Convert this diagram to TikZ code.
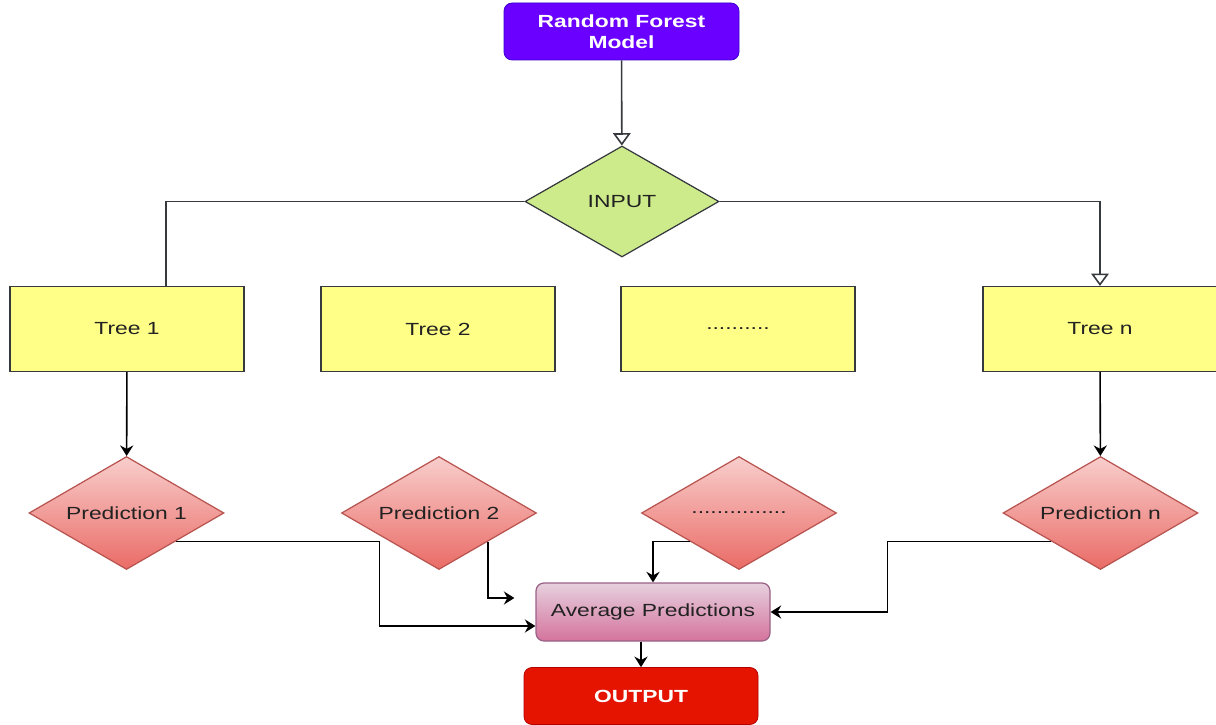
\documentclass[tikz,border=0pt]{standalone}
\usepackage{fontspec}
\setmainfont{Liberation Sans}[FakeStretch=1.3]
\usepackage{tikz}
\usetikzlibrary{arrows.meta,calc,positioning,shapes.geometric}

\definecolor{rfpurple}{HTML}{6A00FF}
\definecolor{rfpurpled}{HTML}{3700CC}
\definecolor{ingreen}{HTML}{CDEB8B}
\definecolor{treeyel}{HTML}{FFFF88}
\definecolor{edgegray}{HTML}{36393D}
\definecolor{predtop}{HTML}{F8CECC}
\definecolor{predbot}{HTML}{EA6B66}
\definecolor{predline}{HTML}{B85450}
\definecolor{avgtop}{HTML}{E6D0DE}
\definecolor{avgbot}{HTML}{D5739D}
\definecolor{avgline}{HTML}{996185}
\definecolor{outred}{HTML}{E51400}
\definecolor{outredd}{HTML}{B20000}
\definecolor{txt}{HTML}{222222}

\tikzset{
	every node/.style={font=\fontsize{10}{12}\selectfont,text=txt},
	model/.style={draw=rfpurpled,fill=rfpurple,rounded corners=0.16cm,minimum width=4.7cm,minimum height=1.14cm,align=center,text=white,font=\fontsize{10}{12}\selectfont\bfseries},
	inputbox/.style={diamond,aspect=1.75,draw=edgegray,fill=ingreen,inner sep=0pt,minimum width=3.88cm,minimum height=2.22cm,line width=0.7pt},
	treebox/.style={rectangle,draw=edgegray,fill=treeyel,minimum width=4.68cm,minimum height=1.7cm,line width=0.7pt},
	predbox/.style={diamond,aspect=1.73,draw=predline,top color=predtop,bottom color=predbot,inner sep=0pt,minimum width=3.9cm,minimum height=2.26cm,line width=0.7pt},
	avgbox/.style={draw=avgline,top color=avgtop,bottom color=avgbot,rounded corners=0.16cm,minimum width=4.68cm,minimum height=1.16cm,line width=0.7pt},
	outbox/.style={draw=outredd,fill=outred,rounded corners=0.16cm,minimum width=4.68cm,minimum height=1.14cm,text=white,font=\fontsize{10}{12}\selectfont\bfseries},
	feed/.style={draw=edgegray,line width=0.9pt,-{Triangle[open,length=7pt,width=10pt]}},
	flow/.style={draw=black,line width=0.9pt,-{Stealth[length=6pt,width=7.5pt,inset=2pt]}},
	plain/.style={draw=edgegray,line width=0.9pt}
}

\begin{document}
\begin{tikzpicture}
	\useasboundingbox (0,0) rectangle (24.32,14.48);
	% top
	\node[model] (rf) at (12.43,13.85) {Random Forest\\Model};
	\node[inputbox] (input) at (12.44,10.45) {INPUT};
	% trees
	\node[treebox] (tree1) at (2.54,7.9) {Tree 1};
	\node[treebox] (tree2) at (8.76,7.9) {Tree 2};
	\node[treebox] (tree3) at (14.76,7.9) {..........};
	\node[treebox] (treen) at (22.0,7.9) {Tree n};
	% predictions
	\node[predbox] (pred1) at (2.53,4.22) {Prediction 1};
	\node[predbox] (pred2) at (8.78,4.22) {Prediction 2};
	\node[predbox] (pred3) at (14.78,4.22) {...............};
	\node[predbox] (predn) at (22.01,4.22) {Prediction n};
	% result
	\node[avgbox] (avg) at (13.06,2.24) {Average Predictions};
	\node[outbox] (out) at (12.82,0.56) {OUTPUT};
	% connectors
	\draw[feed] (rf) -- (input);
	\draw[plain] (input.west) -| ([xshift=0.78cm]tree1.north);
	\draw[feed] (input.east) -| (treen.north);
	\draw[flow] (tree1) -- (pred1);
	\draw[flow] (treen) -- (predn);
	\draw[flow] (pred1.south east) -| ([xshift=-3.12cm,yshift=-0.28cm]avg.west) -- ([yshift=-0.28cm]avg.west);
	\draw[flow] (pred2.south east) |- ([xshift=-0.42cm,yshift=0.28cm]avg.west);
	\draw[flow] (pred3.south west) -| (avg.north);
	\draw[flow] (predn.south west) -| ([xshift=2.34cm]avg.east) -- (avg.east);
	\draw[flow] (avg.south -| out.north) -- (out.north);
\end{tikzpicture}
\end{document}
